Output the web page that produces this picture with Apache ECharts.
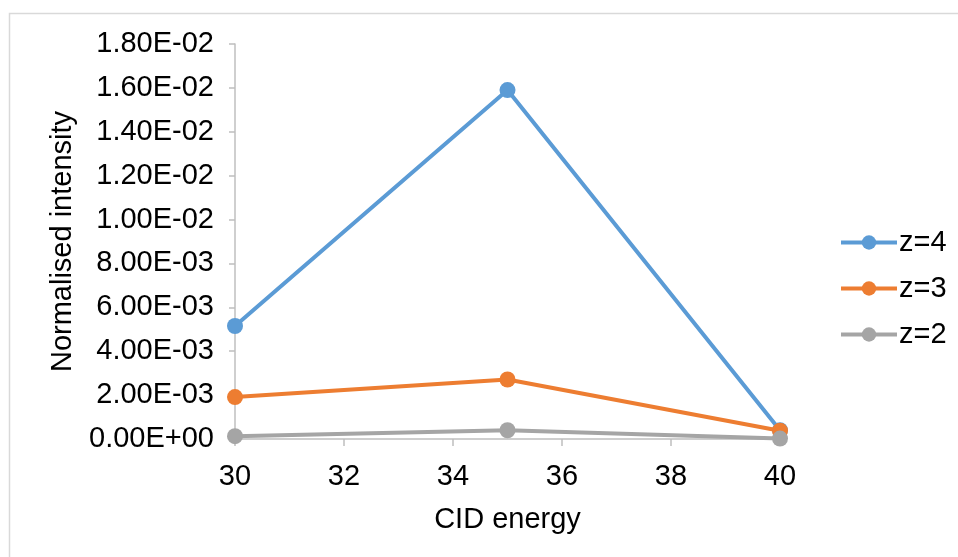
<!DOCTYPE html>
<html>
<head>
<meta charset="utf-8">
<script src="https://cdn.jsdelivr.net/npm/echarts@6/dist/echarts.min.js"></script>
<style>html,body{margin:0;padding:0;background:#fff}#c{width:958px;height:557px}</style>
</head>
<body>
<div id="c"></div>
<script>
var energies = [30, 35, 40];
var seriesNames = ['z=4', 'z=3', 'z=2'];
var z4 = [5.15e-3, 1.59e-2, 4.0e-4];
var z3 = [1.91e-3, 2.71e-3, 3.8e-4];
var z2 = [1.3e-4, 4.0e-4, 2.0e-5];
var colors = ['#5B9BD5', '#ED7D31', '#A5A5A5'];

function fmt(v) {
  if (v === 0) return '0.00E+00';
  var s = v.toExponential(2).toUpperCase();
  var m = s.match(/^(.*)E([+-])(\d+)$/);
  var e = m[3].length < 2 ? '0' + m[3] : m[3];
  return m[1] + 'E' + m[2] + e;
}
function pairs(arr) { return energies.map(function (x, i) { return [x, arr[i]]; }); }

var font = 'Liberation Sans, Arial, sans-serif';
var fs = 29;
var chart = echarts.init(document.getElementById('c'));
var data = [z4, z3, z2];
chart.setOption({
  animation: false,
  color: colors,
  graphic: [{
    type: 'rect', shape: { x: 9.5, y: 13.5, width: 980, height: 600 },
    style: { fill: 'none', stroke: '#d9d9d9', lineWidth: 1.5 }, silent: true
  }],
  grid: { left: 235, right: 178, top: 44, bottom: 118 },
  xAxis: {
    type: 'value', min: 30, max: 40, interval: 2,
    name: 'CID energy', nameLocation: 'middle', nameGap: 66,
    nameTextStyle: { fontFamily: font, fontSize: fs, color: '#000' },
    axisLine: { show: true, lineStyle: { color: '#bfbfbf', width: 1.5 } },
    axisTick: { show: true, length: 7, lineStyle: { color: '#bfbfbf', width: 1.5 } },
    axisLabel: { fontFamily: font, fontSize: fs, color: '#000', margin: 23 },
    splitLine: { show: false }
  },
  yAxis: {
    type: 'value', min: 0, max: 0.018, interval: 0.002,
    name: 'Normalised intensity', nameLocation: 'middle', nameGap: 158, nameRotate: 90,
    nameTextStyle: { fontFamily: font, fontSize: fs, color: '#000' },
    axisLine: { show: true, lineStyle: { color: '#bfbfbf', width: 1.5 } },
    axisTick: { show: true, length: 6, lineStyle: { color: '#bfbfbf', width: 1.5 } },
    axisLabel: { fontFamily: font, fontSize: fs, color: '#000', margin: 21, formatter: fmt },
    splitLine: { show: false }
  },
  legend: {
    orient: 'vertical', left: 834, top: 223,
    itemWidth: 56, itemHeight: 18, itemGap: 17,
    lineStyle: { width: 4 },
    textStyle: { fontFamily: font, fontSize: fs, color: '#000', padding: [0, 0, 0, -3] },
    data: seriesNames
  },
  series: seriesNames.map(function (n, i) {
    return {
      name: n, type: 'line', data: pairs(data[i]),
      symbol: 'circle', symbolSize: 16,
      lineStyle: { width: 4, color: colors[i] },
      itemStyle: { color: colors[i] },
      z: 2 + i
    };
  })
});
</script>
</body>
</html>
